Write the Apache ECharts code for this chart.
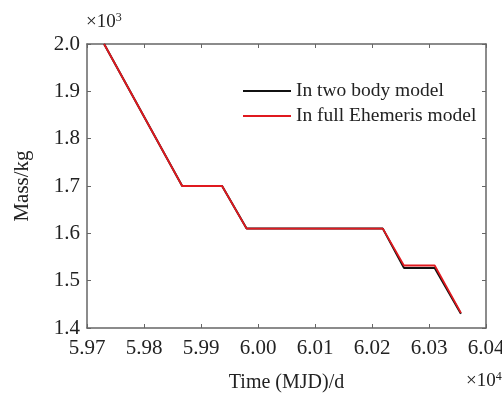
<!DOCTYPE html>
<html>
<head>
<meta charset="utf-8">
<script src="https://cdn.jsdelivr.net/npm/echarts@6/dist/echarts.min.js"></script>
<style>
  html, body { margin: 0; padding: 0; background: #fff; }
  #chart { width: 502px; height: 398px; }
</style>
</head>
<body>
<div id="chart"></div>
<script>
// time in units of 1e4 MJD, mass in units of 1e3 kg
var twoBodyTime = [5.973, 5.9867, 5.9937, 5.998, 6.0219, 6.0256, 6.031, 6.0356];
var twoBodyMass = [2.0, 1.70, 1.70, 1.61, 1.61, 1.527, 1.527, 1.430];
var fullEphTime = [5.973, 5.9867, 5.9937, 5.998, 6.0219, 6.0256, 6.031, 6.0356];
var fullEphMass = [2.0, 1.70, 1.70, 1.61, 1.61, 1.532, 1.532, 1.432];
var xTickLabels = ["5.97", "5.98", "5.99", "6.00", "6.01", "6.02", "6.03", "6.04"];
var yTickLabels = ["1.4", "1.5", "1.6", "1.7", "1.8", "1.9", "2.0"];

function pairs(xs, ys) {
  return xs.map(function (x, i) { return [x, ys[i]]; });
}

var font = "Liberation Serif";
var axisColor = "#666";

var chart = echarts.init(document.getElementById("chart"));
chart.setOption({
  animation: false,
  textStyle: { fontFamily: font },
  grid: { left: 87, right: 16, top: 44, bottom: 70, outerBoundsMode: "none" },
  legend: {
    left: 238,
    top: 76,
    orient: "vertical",
    itemWidth: 48,
    itemHeight: 2,
    itemGap: 5,
    icon: "rect",
    textStyle: { fontFamily: font, fontSize: 19.5, color: "#222" },
    data: ["In two body model", "In full Ehemeris model"]
  },
  xAxis: [{
    type: "value",
    min: 5.97,
    max: 6.04,
    interval: 0.01,
    name: "Time (MJD)/d",
    nameLocation: "middle",
    nameGap: 45,
    nameTextStyle: { fontFamily: font, fontSize: 20, color: "#222" },
    axisLine: { lineStyle: { color: axisColor, width: 1.5 } },
    axisTick: { inside: true, length: 4, lineStyle: { color: axisColor } },
    splitLine: { show: false },
    axisLabel: {
      fontFamily: font, fontSize: 21, color: "#222", margin: 10,
      formatter: function (v) {
        var i = Math.round((v - 5.97) / 0.01);
        return xTickLabels[i] || "";
      }
    }
  }, {
    type: "value",
    position: "top",
    min: 5.97,
    max: 6.04,
    interval: 0.01,
    axisLine: { show: true, lineStyle: { color: axisColor, width: 1.5 } },
    axisTick: { inside: true, length: 4, lineStyle: { color: axisColor } },
    axisLabel: { show: false },
    splitLine: { show: false }
  }],
  yAxis: [{
    type: "value",
    min: 1.4,
    max: 2.0,
    interval: 0.1,
    name: "Mass/kg",
    nameLocation: "middle",
    nameGap: 54,
    nameTextStyle: { fontFamily: font, fontSize: 21, color: "#222" },
    axisLine: { show: true, lineStyle: { color: axisColor, width: 1.5 } },
    axisTick: { show: true, inside: true, length: 4, lineStyle: { color: axisColor } },
    splitLine: { show: false },
    axisLabel: {
      fontFamily: font, fontSize: 21, color: "#222", margin: 7,
      formatter: function (v) {
        var i = Math.round((v - 1.4) / 0.1);
        return yTickLabels[i] || "";
      }
    }
  }, {
    type: "value",
    position: "right",
    min: 1.4,
    max: 2.0,
    interval: 0.1,
    axisLine: { show: true, lineStyle: { color: axisColor, width: 1.5 } },
    axisTick: { show: true, inside: true, length: 4, lineStyle: { color: axisColor } },
    axisLabel: { show: false },
    splitLine: { show: false }
  }],
  graphic: [{
    type: "text",
    left: 86,
    top: 12,
    style: {
      text: "{a|\u00d710}{b|3}",
      rich: {
        a: { fontFamily: font, fontSize: 19, fill: "#222" },
        b: { fontFamily: font, fontSize: 12, fill: "#222", verticalAlign: "top", padding: [0, 0, 8, 0] }
      }
    }
  }, {
    type: "text",
    left: 466,
    top: 371,
    style: {
      text: "{a|\u00d710}{b|4}",
      rich: {
        a: { fontFamily: font, fontSize: 19, fill: "#222" },
        b: { fontFamily: font, fontSize: 12, fill: "#222", verticalAlign: "top", padding: [0, 0, 8, 0] }
      }
    }
  }],
  series: [{
    name: "In two body model",
    type: "line",
    data: pairs(twoBodyTime, twoBodyMass),
    symbol: "none",
    color: "#111",
    lineStyle: { color: "#111", width: 2 }
  }, {
    name: "In full Ehemeris model",
    type: "line",
    data: pairs(fullEphTime, fullEphMass),
    symbol: "none",
    color: "#e0191f",
    lineStyle: { color: "#e0191f", width: 1.8 }
  }]
});
</script>
</body>
</html>
